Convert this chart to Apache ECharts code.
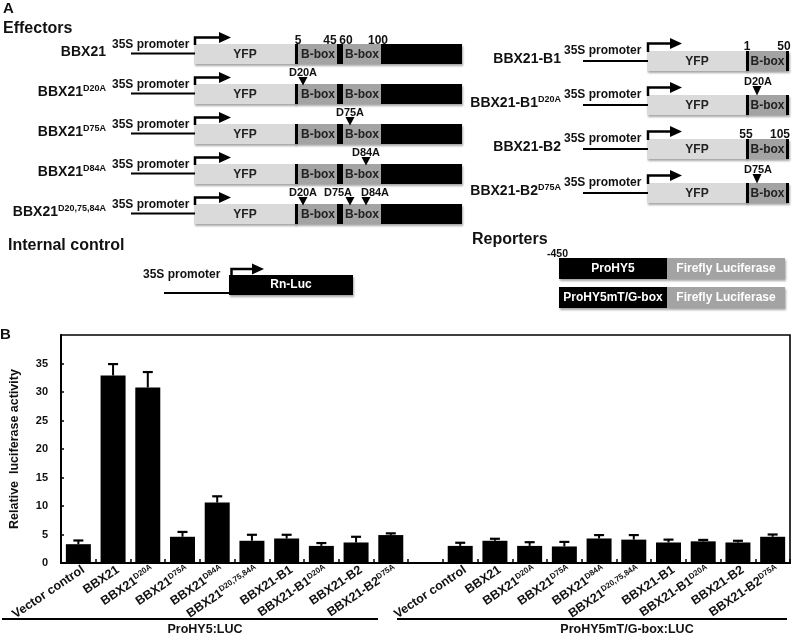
<!DOCTYPE html>
<html><head><meta charset="utf-8">
<script src="https://cdn.jsdelivr.net/npm/echarts@6/dist/echarts.min.js"></script>
<style>html,body{margin:0;padding:0;background:#fff}#c{width:793px;height:635px}</style>
</head><body><div id="c"></div>
<script>
// ---------------- DATA ----------------
const categories = ['Vector control','BBX21','BBX21^D20A','BBX21^D75A','BBX21^D84A','BBX21^D20,75,84A','BBX21-B1','BBX21-B1^D20A','BBX21-B2','BBX21-B2^D75A'];
const groupNames = ['ProHY5:LUC','ProHY5mT/G-box:LUC'];
const hy5Values = [3.3, 32.9, 30.8, 4.6, 10.6, 3.9, 4.3, 3.0, 3.6, 4.9];
const hy5Errors = [0.65, 2.0, 2.7, 0.85, 1.1, 1.05, 0.65, 0.5, 1.0, 0.3];
const mtValues  = [3.0, 3.9, 3.0, 2.9, 4.3, 4.1, 3.6, 3.8, 3.6, 4.6];
const mtErrors  = [0.55, 0.35, 0.65, 0.8, 0.6, 0.8, 0.5, 0.25, 0.3, 0.4];
const yMin = 0, yMax = 40, yInterval = 5;
const yAxisName = 'Relative  luciferase activity';

// schematic texts
const fullEffectors = [
  {name:'BBX21', sup:'', muts:[]},
  {name:'BBX21', sup:'D20A', muts:['D20A']},
  {name:'BBX21', sup:'D75A', muts:['D75A']},
  {name:'BBX21', sup:'D84A', muts:['D84A']},
  {name:'BBX21', sup:'D20,75,84A', muts:['D20A','D75A','D84A']}
];
const boxEffectors = [
  {name:'BBX21-B1', sup:'', muts:[], nums:['1','50']},
  {name:'BBX21-B1', sup:'D20A', muts:['D20A']},
  {name:'BBX21-B2', sup:'', muts:[], nums:['55','105']},
  {name:'BBX21-B2', sup:'D75A', muts:['D75A']}
];
const fullNums = ['5','45','60','100'];
const reporters = ['ProHY5','ProHY5mT/G-box'];

// ---------------- SCHEMATIC (graphic) ----------------
const FONT = '"Liberation Sans", Arial, Helvetica, sans-serif';
const G = [];
function txt(x, y, text, size, opt) {
  G.push({type:'text', x:x, y:y, z:10, style:Object.assign({text:text, fontSize:size, fontWeight:'bold', fontFamily:FONT, fill:'#111', align:'left', verticalAlign:'middle'}, opt||{})});
}
function richLabel(x, y, name, sup, size, supSize) {
  const t = sup ? '{b|' + name + '}{s|' + sup + '}' : '{b|' + name + '}';
  G.push({type:'text', x:x, y:y, z:10, style:{text:t, align:'right', verticalAlign:'middle', fill:'#111',
    rich:{b:{fontSize:size, fontWeight:'bold', fontFamily:FONT, lineHeight:size+2, fill:'#111'},
          s:{fontSize:supSize, fontWeight:'bold', fontFamily:FONT, lineHeight:supSize, verticalAlign:'top', fill:'#111'}}}});
}
function rect(x, y, w, h, fill, shadow) {
  const st = {fill:fill};
  if (shadow) { st.shadowBlur = 2; st.shadowColor = 'rgba(0,0,0,0.35)'; st.shadowOffsetX = 1; st.shadowOffsetY = 1.5; }
  G.push({type:'rect', z:5, shape:{x:x, y:y, width:w, height:h}, style:st});
}
function line(x1, y1, x2, y2, w) {
  G.push({type:'line', z:6, shape:{x1:x1, y1:y1, x2:x2, y2:y2}, style:{stroke:'#000', lineWidth:w}});
}
function poly(points, w) {
  G.push({type:'polyline', z:6, shape:{points:points}, style:{stroke:'#000', lineWidth:w, fill:null}});
}
function tri(points) {
  G.push({type:'polygon', z:7, shape:{points:points}, style:{fill:'#000'}});
}
function promoterArrow(x, yTop, yH, xEnd) {
  poly([[x, yTop], [x, yH], [xEnd - 10, yH]], 2.5);
  tri([[xEnd - 12, yH - 5.5], [xEnd, yH], [xEnd - 12, yH + 5.5]]);
}

const LIGHT = '#dadada', MID = '#a3a3a3';

// Panel labels
txt(3, 9, 'A', 15);
txt(3, 29, 'Effectors', 16);

// Left column: full-length effectors
const mutXLeft = {D20A:303, D75A:350, D84A:366};
const mutTextLeftRow5 = {D20A:303, D75A:338, D84A:375};
fullEffectors.forEach(function (e, i) {
  const yb = 44 + 40 * i;
  richLabel(106, yb + 8.5, e.name, e.sup, 14, 9);
  txt(112, yb + 0.5, '35S promoter', 12);
  line(131, yb + 9.5, 195, yb + 9.5, 2);
  promoterArrow(195, yb + 1, yb - 6.5, 231);
  rect(194, yb, 102, 20, LIGHT, true);
  rect(295, yb, 167, 20, '#000', true);
  rect(298, yb, 39, 20, MID);
  rect(343, yb, 38, 20, MID);
  txt(245, yb + 11, 'YFP', 12, {align:'center', fill:'#222'});
  txt(318, yb + 11, 'B-box', 12, {align:'center', fill:'#222'});
  txt(362, yb + 11, 'B-box', 12, {align:'center', fill:'#222'});
  if (i === 0) {
    const nx = [298, 330, 346, 378];
    fullNums.forEach(function (n, k) { txt(nx[k], yb - 3.5, n, 12, {align:'center'}); });
  }
  e.muts.forEach(function (m) {
    const mx = mutXLeft[m];
    const tx = e.muts.length > 1 ? mutTextLeftRow5[m] : mx;
    txt(tx, yb - 11.5, m, 11, {align:'center'});
    tri([[mx - 4.5, yb - 7], [mx + 4.5, yb - 7], [mx, yb + 1.5]]);
  });
});

// Right column: single B-box effectors
boxEffectors.forEach(function (e, i) {
  const yb = 51 + 44 * i;
  richLabel(561, yb + 8, e.name, e.sup, 14, 9);
  txt(564, yb - 0.5, '35S promoter', 12);
  line(583, yb + 10, 648, yb + 10, 2);
  promoterArrow(648, yb + 1, yb - 7.5, 682);
  rect(647, yb, 100, 20, LIGHT, true);
  rect(746, yb, 43, 20, '#000', true);
  rect(749, yb, 37, 20, MID);
  txt(697, yb + 11, 'YFP', 12, {align:'center', fill:'#222'});
  txt(767.5, yb + 11, 'B-box', 12, {align:'center', fill:'#222'});
  if (e.nums) {
    const nx = i === 0 ? [747, 784] : [746, 780];
    e.nums.forEach(function (n, k) { txt(nx[k], yb - 4.5, n, 12, {align:'center'}); });
  }
  e.muts.forEach(function (m) {
    txt(758, yb - 13, m, 11, {align:'center'});
    tri([[752.5, yb - 9], [761.5, yb - 9], [757, yb + 0.5]]);
  });
});

// Internal control
txt(8, 246, 'Internal control', 16);
txt(143, 275, '35S promoter', 12);
line(164, 293, 230, 293, 2);
promoterArrow(231.5, 276, 269, 264);
rect(229, 275, 124, 20, '#000', true);
txt(291, 285, 'Rn-Luc', 12, {align:'center', fill:'#fff'});

// Reporters
txt(472, 240, 'Reporters', 16);
txt(547, 254, '-450', 10.5);
reporters.forEach(function (r, i) {
  const y = 258 + 29 * i;
  rect(559, y, 108, 21, '#000', true);
  rect(667, y, 118, 21, MID, true);
  txt(613, y + 10.5, r, 12, {align:'center', fill:'#fff'});
  txt(726, y + 10.5, 'Firefly Luciferase', 12, {align:'center', fill:'#fff'});
});

// Panel B label, group underlines and titles
txt(0, 335, 'B', 15);
line(2, 619, 378, 619, 2.2);
line(397, 619, 787, 619, 2.2);
txt(205, 629.5, groupNames[0], 12.5, {align:'center'});
txt(627, 629.5, groupNames[1], 12.5, {align:'center'});

// ---------------- BAR CHART ----------------
const xCats = categories.map(function (c) { return 'L|' + c; })
  .concat(['gap|'])
  .concat(categories.map(function (c) { return 'R|' + c; }));
const barData = hy5Values.concat([null], mtValues);
const errData = [];
hy5Values.forEach(function (v, i) { errData.push([i, v, hy5Errors[i]]); });
mtValues.forEach(function (v, i) { errData.push([i + hy5Values.length + 1, v, mtErrors[i]]); });

const chart = echarts.init(document.getElementById('c'), null, {renderer:'canvas'});
chart.setOption({
  backgroundColor:'#fff',
  animation:false,
  textStyle:{fontFamily:FONT},
  grid:{left:54, right:3, top:335, height:228, show:true, borderColor:'#000', borderWidth:1.6, backgroundColor:'transparent'},
  xAxis:{
    type:'category', data:xCats,
    axisLine:{lineStyle:{color:'#000', width:2.2}},
    axisTick:{show:true, inside:true, length:4, interval:0, lineStyle:{color:'#000', width:1.5}},
    axisLabel:{
      interval:0, rotate:34, margin:9, color:'#111', padding:[0, -6, 0, 0],
      formatter:function (v) {
        const name = v.split('|')[1];
        if (!name) return '';
        const p = name.split('^');
        return p[1] ? '{b|' + p[0] + '}{s|' + p[1] + '}' : '{b|' + p[0] + '}';
      },
      rich:{
        b:{fontSize:12.5, fontWeight:'bold', fontFamily:FONT, lineHeight:14, color:'#111'},
        s:{fontSize:8, fontWeight:'bold', fontFamily:FONT, lineHeight:8, verticalAlign:'top', color:'#111'}
      }
    }
  },
  yAxis:{
    type:'value', min:yMin, max:yMax, interval:yInterval,
    name:yAxisName, nameLocation:'middle', nameGap:40, nameRotate:90,
    nameTextStyle:{fontSize:12.5, fontWeight:'bold', color:'#111', fontFamily:FONT},
    axisLine:{show:true, lineStyle:{color:'#000', width:2}},
    axisTick:{show:true, inside:true, length:3, lineStyle:{color:'#000', width:1.5}},
    axisLabel:{showMaxLabel:false, fontSize:11, fontWeight:'bold', color:'#111', margin:13},
    splitLine:{show:false}
  },
  series:[
    {type:'bar', data:barData, barWidth:'72%', itemStyle:{color:'#000'}, z:2},
    {type:'custom', data:errData, encode:{x:0, y:1}, z:3,
      renderItem:function (params, api) {
        const i = api.value(0), v = api.value(1), e = api.value(2);
        const p0 = api.coord([i, v]);
        const p1 = api.coord([i, v + e]);
        const cap = 5;
        return {type:'group', children:[
          {type:'line', shape:{x1:p0[0], y1:p0[1], x2:p1[0], y2:p1[1]}, style:{stroke:'#000', lineWidth:2}},
          {type:'line', shape:{x1:p1[0] - cap, y1:p1[1], x2:p1[0] + cap, y2:p1[1]}, style:{stroke:'#000', lineWidth:2.2}}
        ]};
      }
    }
  ],
  graphic:G
});
</script>
</body></html>
